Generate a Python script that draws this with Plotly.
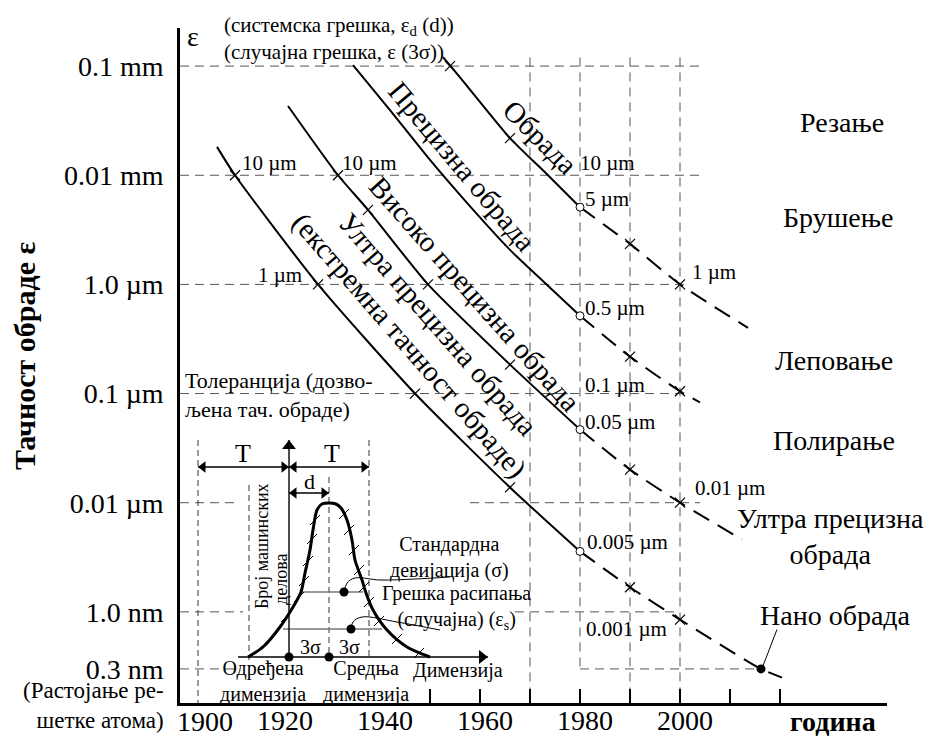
import math
import plotly.graph_objects as go

# ---------------- DATA ----------------
# Curve 1: "Обрада" (year, accuracy in µm)
c1_solid_year = [1952.6, 1956, 1966, 1973.6, 1980]
c1_solid_um = [121, 79, 21.9, 10, 5.1]
c1_dash_year = [1980, 1990, 2000, 2013.6]
c1_dash_um = [5.1, 2.35, 1.0, 0.40]
c1_x_year = [1954, 1966, 1990, 2000]
c1_x_um = [100, 21.9, 2.35, 1.0]

# Curve 2: "Прецизна обрада"
c2_solid_year = [1934.6, 1942, 1950, 1957.4, 1966, 1973, 1980]
c2_solid_um = [102, 39.5, 13.8, 5.58, 2.07, 1.03, 0.516]
c2_dash_year = [1980, 1990, 2000, 2004]
c2_dash_um = [0.516, 0.218, 0.105, 0.083]
c2_x_year = [1990, 2000]
c2_x_um = [0.218, 0.105]

# Curve 3: "Високо прецизна обрада"
c3_solid_year = [1921.6, 1931.6, 1937.6, 1949.6, 1966, 1980]
c3_solid_um = [43.1, 10, 4.82, 1.0, 0.184, 0.0468]
c3_dash_year = [1980, 1990, 2000, 2012.4]
c3_dash_um = [0.0468, 0.0201, 0.01, 0.0046]
c3_x_year = [1931.6, 1937.6, 1949.6, 1966, 1990, 2000]
c3_x_um = [10, 4.82, 1.0, 0.184, 0.0201, 0.01]

# Curve 4: "Ултра прецизна обрада (екстремна тачност обраде)"
c4_solid_year = [1907.4, 1911, 1927.6, 1947, 1966, 1980]
c4_solid_um = [18.2, 10, 1.0, 0.1, 0.0138, 0.00358]
c4_dash_year = [1980, 1990, 2000, 2016.2, 2020.4]
c4_dash_um = [0.00358, 0.00168, 0.00085, 0.0003, 0.00025]
c4_x_year = [1911, 1927.6, 1947, 1966, 1990, 2000]
c4_x_um = [10, 1.0, 0.1, 0.0138, 0.00168, 0.00085]

circle_year = [1980, 1980, 1980, 1980]
circle_um = [5.1, 0.516, 0.0468, 0.00358]
nano_year = [2016.2]
nano_um = [0.0003]

# dashed reference lines
hgrid_um = [100, 10, 1, 0.1, 0.01, 0.01, 0.001, 0.001, 0.0003, 0.0003]
hgrid_from = [1900, 1900, 1900, 1900, 1900, 1958, 1900, 1967, 1900, 1980]
hgrid_to = [2004, 2004, 2001, 2002, 1912, 2004, 1912.6, 2000, 1912, 2016.2]
vgrid_year = [1970, 1980, 1990, 2000]
vgrid_top = [120, 120, 120, 120]
vgrid_bottom = [1.46e-4, 0.0003, 1.46e-4, 1.46e-4]

# axis ticks
y_tickvals = [100, 10, 1, 0.1, 0.01, 0.001, 0.0003]
y_ticktext = ["0.1 mm", "0.01 mm", "1.0 µm", "0.1 µm", "0.01 µm", "1.0 nm", "0.3 nm"]
x_label_years = [1920, 1940, 1960, 1980, 2000]
x_tick_years = [1950, 1960, 1970, 1980, 1990, 2000, 2010, 2020]

# Inset (schematic distribution), arbitrary units
bell_x = [-4.1, -2.6, -0.9, 0.4, 1.2, 1.6, 2.1, 2.4, 2.8, 3.3, 4.0,
          4.7, 5.2, 5.8, 6.3, 6.6, 7.3, 7.7, 8.4, 9.8, 11.8, 14.1]
bell_y = [0, 1.0, 3.0, 5.0, 6.5, 8.4, 10.7, 12.7, 14.7, 15.3, 15.4,
          15.3, 14.9, 13.7, 11.7, 9.7, 7.7, 6.4, 4.7, 2.7, 1.0, 0]
hatch_x = [-3.2, -1.7, -0.3, 1.0, 1.5, 1.9, 2.3, 2.6, 5.5, 6.0, 6.5, 7.0, 7.5, 8.0, 9.0, 10.8, 13.0]
hatch_y = [0.6, 2.0, 4.0, 6.0, 7.6, 9.6, 11.8, 13.7, 14.3, 12.7, 10.7, 8.7, 7.0, 5.5, 3.6, 1.8, 0.4]
sigma_bar_x = [1.3, 7.4]
sigma_bar_y = [6.5, 6.5]
three_sigma_bar_x = [-0.6, 9.3]
three_sigma_bar_y = [2.8, 2.8]
inset_dot_x = [5.5, 6.2, 0, 4]
inset_dot_y = [6.5, 2.8, 0, 0]
inset_vdash_x = [-9.1, -4.0, 4.0, 8.0]
inset_vdash_top = [21.7, 17.2, 18.0, 21.7]
inset_vdash_bottom = [-4.6, -0.3, 0, 0]
lead1_x = [5.5, 5.8, 6.6, 9.1, 12.6, 16.1]
lead1_y = [6.5, 7.4, 7.9, 7.7, 7.8, 8.0]
lead2_x = [6.2, 6.4, 7.3, 10.8, 15.1]
lead2_y = [2.8, 3.5, 4.0, 3.5, 2.7]
# dimension arrows (T, T, d): start x, end x, level
dim_x0 = [-9.1, 0.0, 0.0]
dim_x1 = [0.0, 8.0, 4.0]
dim_y = [19.0, 19.0, 16.4]
# inset axes: vertical (count) and horizontal (dimension)
inset_vaxis_y = [0.0, 21.7]
inset_haxis_x = [-5.1, 19.9]

# ---------------- FIGURE ----------------
FONT = "Liberation Serif"
L, R, T, B = 180, 42, 28, 33
W, H = 929, 736
PW, PH = W - L - R, H - T - B


def ppx(px):
    return (px - L) / PW


def ppy(py):
    return (H - B - py) / PH


fig = go.Figure()

GRID = dict(color="#555555", width=1, dash="9px,6px")
hx, hy = [], []
for a, b, v in zip(hgrid_from, hgrid_to, hgrid_um):
    hx += [a, b, None]
    hy += [v, v, None]
fig.add_trace(go.Scatter(x=hx, y=hy, mode="lines", line=GRID, hoverinfo="skip"))
vx, vy = [], []
for yr, t, b in zip(vgrid_year, vgrid_top, vgrid_bottom):
    vx += [yr, yr, None]
    vy += [t, b, None]
fig.add_trace(go.Scatter(x=vx, y=vy, mode="lines", line=GRID, hoverinfo="skip"))

SOLID = dict(color="black", width=2, shape="spline", smoothing=0.6)
DASH = dict(color="black", width=2, dash="18px,10px", shape="spline", smoothing=0.6)
curves = [
    (c1_solid_year, c1_solid_um, c1_dash_year, c1_dash_um, c1_x_year, c1_x_um),
    (c2_solid_year, c2_solid_um, c2_dash_year, c2_dash_um, c2_x_year, c2_x_um),
    (c3_solid_year, c3_solid_um, c3_dash_year, c3_dash_um, c3_x_year, c3_x_um),
    (c4_solid_year, c4_solid_um, c4_dash_year, c4_dash_um, c4_x_year, c4_x_um),
]
for sx, sy, dx, dy, mx, my in curves:
    fig.add_trace(go.Scatter(x=sx, y=sy, mode="lines", line=SOLID))
    fig.add_trace(go.Scatter(x=dx, y=dy, mode="lines", line=DASH))
    fig.add_trace(go.Scatter(x=mx, y=my, mode="markers",
                             marker=dict(symbol="x-thin", size=10,
                                         line=dict(width=1.2, color="black"))))
fig.add_trace(go.Scatter(x=circle_year, y=circle_um, mode="markers",
                         marker=dict(symbol="circle", size=8, color="white",
                                     line=dict(width=1, color="black"))))
fig.add_trace(go.Scatter(x=nano_year, y=nano_um, mode="markers",
                         marker=dict(symbol="circle", size=9, color="black")))
# leader for "Нано обрада"
fig.add_trace(go.Scatter(x=[2019.4, 2016.6], y=[0.00069, 0.00032], mode="lines",
                         line=dict(color="black", width=1)))

# ---- inset traces on overlay axes ----
IN = dict(xaxis="x2", yaxis="y2")
ix, iy = [], []
for xx, t, b in zip(inset_vdash_x, inset_vdash_top, inset_vdash_bottom):
    ix += [xx, xx, None]
    iy += [t, b, None]
fig.add_trace(go.Scatter(x=ix, y=iy, mode="lines",
                         line=dict(color="#333333", width=1, dash="6px,4px"), **IN))
fig.add_trace(go.Scatter(x=sigma_bar_x, y=sigma_bar_y, mode="lines",
                         line=dict(color="#777777", width=1.5), **IN))
fig.add_trace(go.Scatter(x=three_sigma_bar_x, y=three_sigma_bar_y, mode="lines",
                         line=dict(color="#777777", width=1.5), **IN))
fig.add_trace(go.Scatter(x=bell_x, y=bell_y, mode="lines",
                         line=dict(color="black", width=3, shape="spline", smoothing=0.8), **IN))
fig.add_trace(go.Scatter(x=hatch_x, y=hatch_y, mode="markers",
                         marker=dict(symbol="line-ne", size=10,
                                     line=dict(width=1, color="black")), **IN))
fig.add_trace(go.Scatter(x=lead1_x, y=lead1_y, mode="lines",
                         line=dict(color="black", width=1, shape="spline"), **IN))
fig.add_trace(go.Scatter(x=lead2_x, y=lead2_y, mode="lines",
                         line=dict(color="black", width=1, shape="spline"), **IN))
fig.add_trace(go.Scatter(x=inset_dot_x, y=inset_dot_y, mode="markers",
                         marker=dict(symbol="circle", size=9, color="black"), **IN))
# dimension arrows
ax_, ay_ = [], []
for a, b, yy in zip(dim_x0, dim_x1, dim_y):
    ax_ += [a, b, None]
    ay_ += [yy, yy, None]
fig.add_trace(go.Scatter(x=ax_, y=ay_, mode="lines", line=dict(color="black", width=1.4), **IN))
fig.add_trace(go.Scatter(x=[a + 0.5 for a in dim_x0], y=dim_y, mode="markers",
                         marker=dict(symbol="triangle-left", size=10, color="black"), **IN))
fig.add_trace(go.Scatter(x=[b - 0.5 for b in dim_x1], y=dim_y, mode="markers",
                         marker=dict(symbol="triangle-right", size=10, color="black"), **IN))
# inset axes with arrow heads
fig.add_trace(go.Scatter(x=[0, 0], y=inset_vaxis_y, mode="lines",
                         line=dict(color="black", width=1.4), **IN))
fig.add_trace(go.Scatter(x=[0], y=[inset_vaxis_y[1] - 0.6], mode="markers",
                         marker=dict(symbol="triangle-up", size=12, color="black"), **IN))
fig.add_trace(go.Scatter(x=inset_haxis_x, y=[0, 0], mode="lines",
                         line=dict(color="black", width=1.4), **IN))
fig.add_trace(go.Scatter(x=[inset_haxis_x[1] - 0.6], y=[0], mode="markers",
                         marker=dict(symbol="triangle-right", size=12, color="black"), **IN))

ann = []


def text(x, y, s, size=21, xref="x", yref="y", xanchor="center", yanchor="middle",
         angle=0, bold=False, align="center", **kw):
    d = dict(x=x, y=y, text=("<b>%s</b>" % s) if bold else s, showarrow=False,
             xref=xref, yref=yref, xanchor=xanchor, yanchor=yanchor, textangle=angle,
             align=align, font=dict(family=FONT, size=size, color="black"))
    d.update(kw)
    ann.append(d)


def logy(v):
    return math.log10(v)


# curve labels (rotated)
text(1972, logy(22.4), "Обрада", 29, angle=45)
text(1956.4, logy(12.2), "Прецизна обрада", 29, angle=50)
text(1959, logy(0.82), "Високо прецизна обрада", 29, angle=48.5)
text(1951.6, logy(0.437), "Ултра прецизна обрада", 29, angle=48.8)
text(1945.8, logy(0.274), "(екстремна тачност обраде)", 29, angle=49)

# value labels
text(1912, logy(13), "10 µm", 21, xanchor="left")
text(1932, logy(13), "10 µm", 21, xanchor="left")
text(1979.6, logy(13), "10 µm", 21, xanchor="left")
text(1980.6, logy(6.07), "5 µm", 21, xanchor="left")
text(1924.8, logy(1.22), "1 µm", 21, xanchor="right")
text(2002, logy(1.30), "1 µm", 21, xanchor="left")
text(1980.6, logy(0.61), "0.5 µm", 21, xanchor="left")
text(1980.6, logy(0.120), "0.1 µm", 21, xanchor="left")
text(1980.6, logy(0.0553), "0.05 µm", 21, xanchor="left")
text(2002.6, logy(0.0135), "0.01 µm", 21, xanchor="left")
text(1981, logy(0.00433), "0.005 µm", 21, xanchor="left")
text(1980.8, logy(0.00069), "0.001 µm", 21, xanchor="left")
text(1900.6, logy(0.0977), "Толеранција (дозво-<br>љена тач. обраде)", 22,
     xanchor="left", align="left")

# right-side process labels
text(ppx(842), ppy(123), "Резање", 28, xref="paper", yref="paper")
text(ppx(838), ppy(218), "Брушење", 28, xref="paper", yref="paper")
text(ppx(834), ppy(360), "Леповање", 28, xref="paper", yref="paper")
text(ppx(834), ppy(440), "Полирање", 28, xref="paper", yref="paper")
text(ppx(926), ppy(536), "Ултра прецизна<br>обрада", 28, xref="paper", yref="paper",
     xanchor="right")
text(ppx(835), ppy(615), "Нано обрада", 28, xref="paper", yref="paper")

# top texts
text(ppx(222), ppy(38), "(системска грешка, ε<sub>d</sub> (d))<br>(случајна грешка, ε (3σ))", 21,
     xref="paper", yref="paper", xanchor="left", align="left")
text(ppx(193), ppy(37), "ε", 28, xref="paper", yref="paper")

# axis titles & extra labels
text(ppx(25), ppy(356), "Тачност обраде ε", 30, xref="paper", yref="paper", angle=-90, bold=True)
text(ppx(833), ppy(721), "година", 28, xref="paper", yref="paper", bold=True)
text(ppx(166), ppy(735), "(Растојање ре-<br>шетке атома)", 23, xref="paper", yref="paper",
     xanchor="right", yanchor="bottom", align="right")
text(ppx(205), ppy(721), "1900", 28, xref="paper", yref="paper")

# inset texts
text(-4.6, 20.4, "T", 26, xref="x2", yref="y2")
text(4.3, 20.4, "T", 26, xref="x2", yref="y2")
text(2.0, 17.6, "d", 22, xref="x2", yref="y2")
text(2.1, 1.0, "3σ", 20, xref="x2", yref="y2")
text(6.0, 1.0, "3σ", 20, xref="x2", yref="y2")
text(-2.6, -2.4, "Одређена<br>димензија", 20, xref="x2", yref="y2")
text(7.7, -2.4, "Средња<br>димензија", 20, xref="x2", yref="y2")
text(16.9, -1.3, "Димензија", 20, xref="x2", yref="y2")
text(16.0, 10.0, "Стандардна<br>девијација (σ)", 20, xref="x2", yref="y2")
text(16.7, 5.0, "Грешка расипања<br>(случајна) (ε<sub>s</sub>)", 20, xref="x2", yref="y2")
text(-2.7, 11.1, "Број машинских", 18, xref="x2", yref="y2", angle=-90)
text(-0.8, 7.7, "делова", 18, xref="x2", yref="y2", angle=-90)

fig.update_layout(
    width=W, height=H,
    margin=dict(l=L, r=R, t=T, b=B, pad=0, autoexpand=False),
    paper_bgcolor="white", plot_bgcolor="white",
    showlegend=False,
    font=dict(family=FONT, color="black"),
    annotations=ann,
    xaxis=dict(range=[1900, 2041.4], showgrid=False, zeroline=False, automargin=False,
               showline=True, linewidth=2.5, linecolor="black",
               tickmode="array", tickvals=x_label_years, ticks="",
               tickfont=dict(family=FONT, size=28), ticklabelshift=5,
               ticklabelstandoff=-9,
               minor=dict(tickmode="array", tickvals=x_tick_years, ticks="inside",
                          ticklen=14, tickwidth=2, tickcolor="black", showgrid=False)),
    yaxis=dict(type="log", range=[-3.835, 2.349], showgrid=False, zeroline=False,
               automargin=False,
               showline=True, linewidth=2.5, linecolor="black",
               tickmode="array", tickvals=y_tickvals, ticktext=y_ticktext, ticks="",
               tickfont=dict(family=FONT, size=28), ticklabelstandoff=8),
    xaxis2=dict(overlaying="x", range=[-10.9, 59.8], visible=False),
    yaxis2=dict(overlaying="y", range=[-4.6, 62.9], visible=False),
)

fig.write_html("out.html", config={"displayModeBar": False},
               post_script="document.body.style.margin='0';document.body.style.overflow='hidden';")
